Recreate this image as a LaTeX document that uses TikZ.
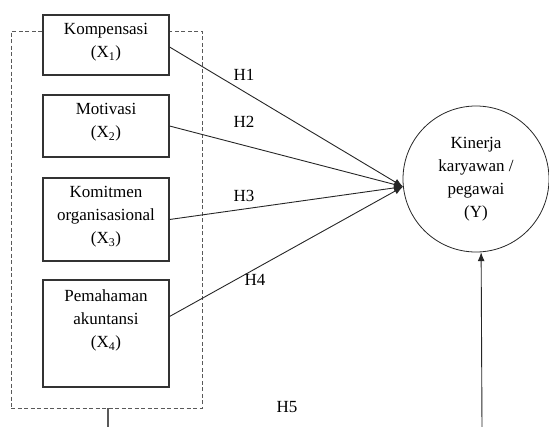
\documentclass[tikz,border=0pt]{standalone}
\usepackage{fontspec}
\setmainfont{Liberation Serif}
\usetikzlibrary{arrows.meta}
\begin{document}
\begin{tikzpicture}[x=1pt,y=-1pt,
  every node/.style={font=\fontsize{17}{23}\selectfont},
  vbox/.style={draw=black!80, line width=1.1pt, fill=white, minimum width=126, inner sep=0},
  vtext/.style={anchor=north, align=center, inner sep=0, yshift=-9pt},
  grpbox/.style={draw=black!65, line width=0.9pt, dash pattern=on 4pt off 2.5pt, minimum width=191, minimum height=377, inner sep=0},
  ybox/.style={draw=black!85, line width=0.8pt, circle, minimum size=146, inner sep=0, align=center},
  conn/.style={draw=black!85, line width=0.9pt, -{Latex[length=9pt,width=7pt]}},
  hlab/.style={inner sep=0}
]
\useasboundingbox (0,0) rectangle (549,426);
\node[grpbox] (grp) at (106.5,219.5) {};
\node[vbox, minimum height=60] (b1) at (106,45) {};
\node[vtext] (t1) at (b1.north) {Kompensasi\\(X\textsubscript{1})};
\node[vbox, minimum height=62] (b2) at (106,126) {};
\node[vtext] (t2) at (b2.north) {Motivasi\\(X\textsubscript{2})};
\node[vbox, minimum height=83] (b3) at (106,219.5) {};
\node[vtext] (t3) at (b3.north) {Komitmen\\organisasional\\(X\textsubscript{3})};
\node[vbox, minimum height=107] (b4) at (106,333.5) {};
\node[vtext, yshift=-1pt] (t4) at (b4.north) {Pemahaman\\akuntansi\\(X\textsubscript{4})};
\node[ybox] (Y) at (476,179) {Kinerja\\karyawan /\\pegawai\\(Y)};
\coordinate (c1) at (108,428);
\coordinate (c2) at (482,428);
\draw[conn] ([yshift=-2pt]b1.east) -- (Y.186);
\draw[conn] (b2.east) -- (Y.186);
\draw[conn] (b3.east) -- (Y.186);
\draw[conn] ([yshift=17pt]b4.east) -- (Y.186);
\draw[draw=black!65, line width=1.2pt] (grp.south -| c1) -- (c1);
\draw[conn] (c2) -- (Y.274);
\node[hlab] (h1) at (244,75) {H1};
\node[hlab] (h2) at (244,122) {H2};
\node[hlab] (h3) at (244,196) {H3};
\node[hlab] (h4) at (255,280) {H4};
\node[hlab] (h5) at (287,407) {H5};
\end{tikzpicture}
\end{document}
